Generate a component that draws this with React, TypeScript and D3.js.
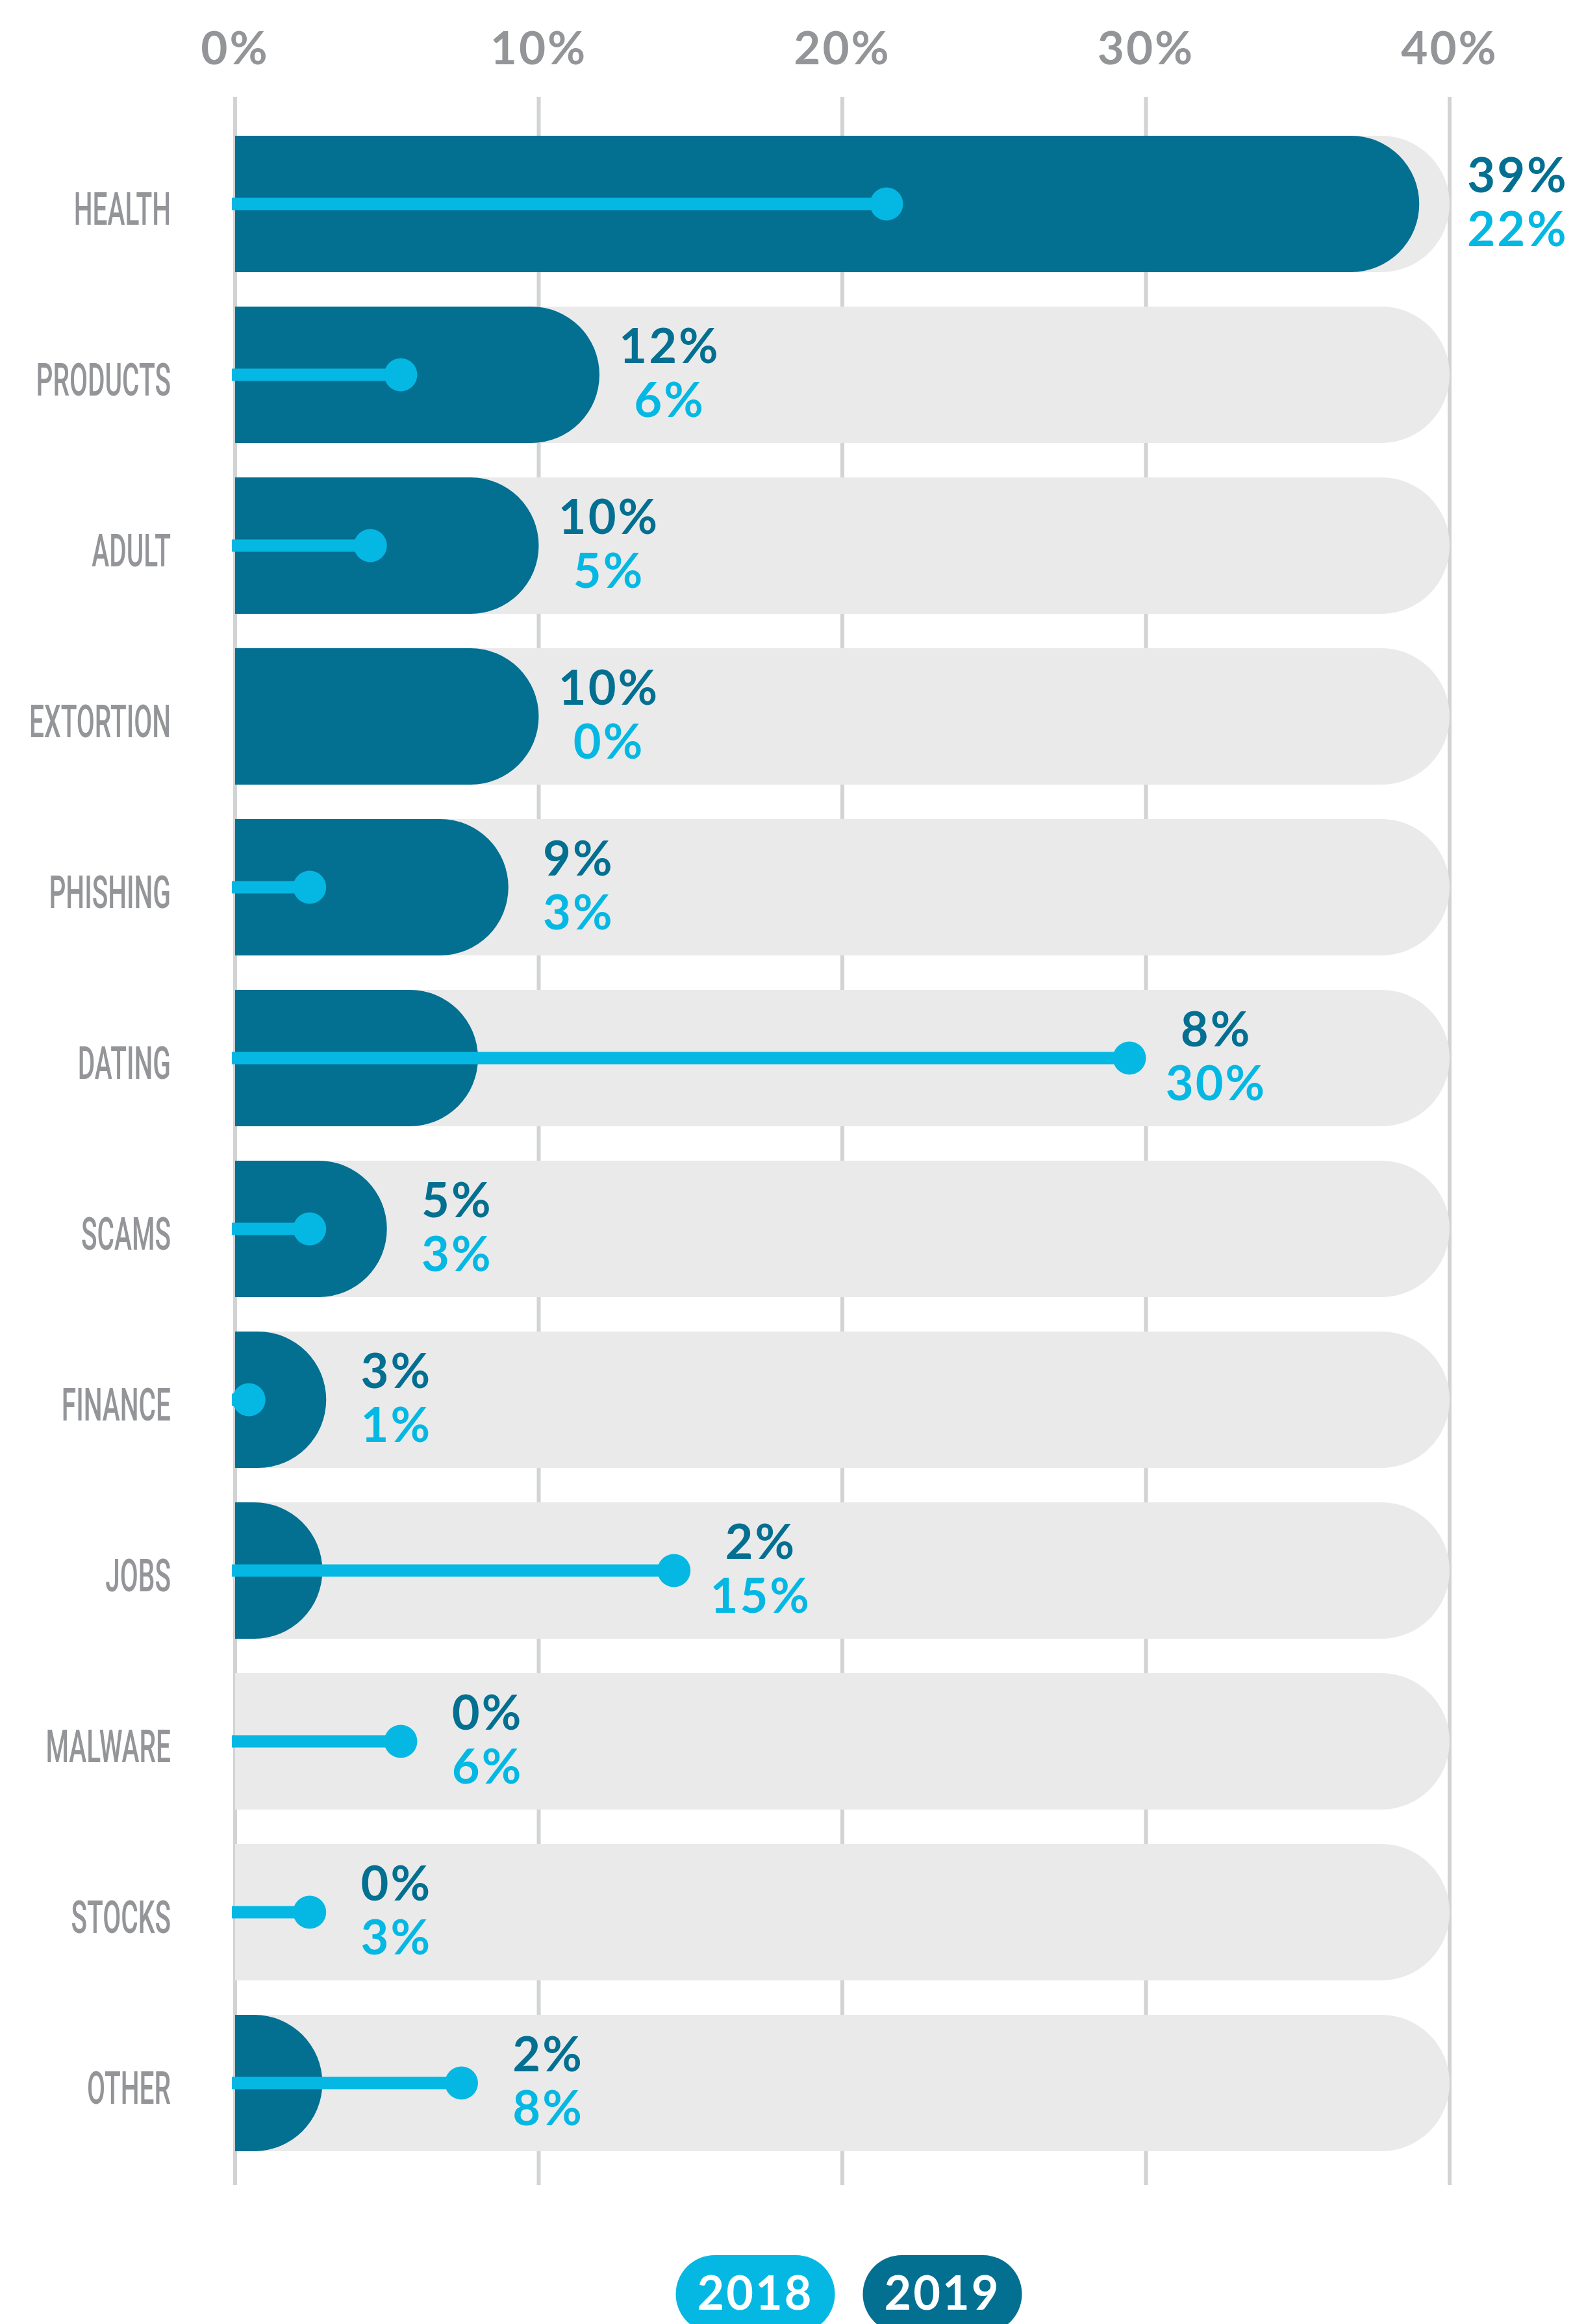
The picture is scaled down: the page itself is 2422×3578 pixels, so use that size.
import React from "react";
import * as d3 from "d3";

const categories = ["HEALTH", "PRODUCTS", "ADULT", "EXTORTION", "PHISHING", "DATING", "SCAMS", "FINANCE", "JOBS", "MALWARE", "STOCKS", "OTHER"];
const values2019 = [39, 12, 10, 10, 9, 8, 5, 3, 2, 0, 0, 2];
const values2018 = [22, 6, 5, 0, 3, 30, 3, 1, 15, 6, 3, 8];
const xTicks = [0, 10, 20, 30, 40];
const years = ["2018", "2019"];

const W = 2422;
const H = 3578;
const C19 = "#036F91";
const C18 = "#05B8E3";
const BG = "#EAEAEA";
const GRID = "#D2D3D5";
const GRAY = "#939598";
const NUMFONT = "Lato, 'Open Sans', sans-serif";

function pill(x0: number, y0: number, w: number, h: number) {
  const r = h / 2;
  const p = d3.path();
  p.moveTo(x0, y0);
  p.lineTo(x0 + w - r, y0);
  p.arc(x0 + w - r, y0 + r, r, -Math.PI / 2, Math.PI / 2);
  p.lineTo(x0, y0 + h);
  p.closePath();
  return p.toString();
}

export default function App() {
  const x = d3.scaleLinear().domain([0, 40]).range([362, 2232]);
  const y = d3.scaleBand<string>().domain(categories).range([209, 3312]).paddingInner(0.2015).paddingOuter(0);
  const bh = y.bandwidth();
  const minW = bh * 0.64;
  const dotR = 25.5;
  const gridTop = 149;
  const gridBottom = 3364;
  const halfLabel = 75;

  const legendCx = (x(0) + x(40)) / 2 + 10;
  const pw = 245, ph = 120, pgap = 43;
  const legendTop = 3472;

  return (
    <svg width={W} height={H} style={{ position: "absolute", left: 0, top: 0, background: "#fff" }} overflow="hidden">
      {xTicks.map((t) => (
        <g key={t}>
          <line x1={x(t)} x2={x(t)} y1={gridTop} y2={gridBottom} stroke={GRID} strokeWidth={6} />
          <text x={x(t)} y={99} textAnchor="middle" fill={GRAY} fontFamily={NUMFONT} fontWeight={700} fontSize={71} letterSpacing={3}>
            {t}%
          </text>
        </g>
      ))}
      {categories.map((c, i) => {
        const y0 = y(c)!;
        const cy = y0 + bh / 2;
        const v19 = values2019[i];
        const v18 = values2018[i];
        const w19 = v19 > 0 ? Math.max(x(v19) - x(0), minW) : 0;
        const barEnd = x(0) + w19;
        const dotEnd = v18 > 0 ? x(v18) : x(0);
        const anchor = Math.max(barEnd, dotEnd);
        let lc = anchor + 108;
        if (lc - halfLabel < x(40) + 30 && lc + halfLabel > x(40)) lc = x(40) + 30 + halfLabel;
        const sx = 0.58;
        return (
          <g key={c}>
            <path d={pill(x(0), y0, x(40) - x(0), bh)} fill={BG} />
            {v19 > 0 && <path d={pill(x(0), y0, w19, bh)} fill={C19} />}
            {v18 > 0 && (
              <g>
                <line x1={x(0) - 5} x2={x(v18) - dotR} y1={cy} y2={cy} stroke={C18} strokeWidth={19} />
                <circle cx={x(v18) - dotR} cy={cy} r={dotR} fill={C18} />
              </g>
            )}
            <text
              transform={`translate(263,${cy + 32}) scale(${sx},1)`}
              textAnchor="end"
              fill={GRAY}
              fontFamily="Roboto, 'Liberation Sans', sans-serif"
              fontWeight={500}
              fontSize={70}
            >
              {c}
            </text>
            <text x={lc} y={cy - 18} textAnchor="middle" fill={C19} fontFamily={NUMFONT} fontWeight={700} fontSize={74} letterSpacing={3}>
              {v19}%
            </text>
            <text x={lc} y={cy + 65} textAnchor="middle" fill={C18} fontFamily={NUMFONT} fontWeight={700} fontSize={74} letterSpacing={3}>
              {v18}%
            </text>
          </g>
        );
      })}
      {years.map((yr, i) => {
        const px = legendCx - pgap / 2 - pw + i * (pw + pgap);
        return (
          <g key={yr}>
            <rect x={px} y={legendTop} width={pw} height={ph} rx={ph / 2} fill={i === 0 ? C18 : C19} />
            <text x={px + pw / 2} y={3556} textAnchor="middle" fill="#fff" fontFamily={NUMFONT} fontWeight={700} fontSize={72} letterSpacing={3}>
              {yr}
            </text>
          </g>
        );
      })}
    </svg>
  );
}
